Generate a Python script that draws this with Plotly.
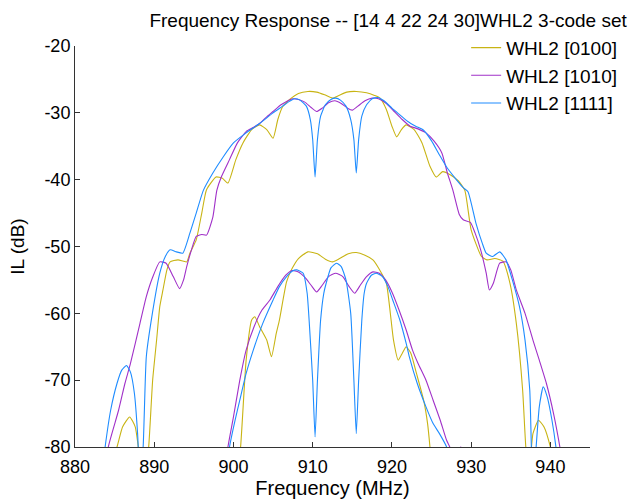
import plotly.graph_objects as go

# ---------------- data ----------------
series_names = ["WHL2 [0100]", "WHL2 [1010]", "WHL2 [1111]"]
series_colors = ["#c8b414", "#a030c8", "#1e8cff"]

# WHL2 [0100] - main response
f_0100_main = [884.0, 885.3, 886.0, 886.9, 887.6, 888.2, 888.7, 889.3, 889.8, 890.3, 890.7, 891.1,
               891.6, 892.0, 893.0, 894.1, 894.5, 895.3, 896.0, 896.6, 897.8, 898.6, 899.3, 900.3,
               901.2, 902.3, 903.3, 904.2, 905.0, 905.6, 906.2, 907.1, 908.2, 909.4, 910.5, 911.5,
               912.5, 913.3, 914.3, 915.5, 916.8, 917.8, 918.5, 919.3, 920.0, 920.6, 921.2, 921.8,
               922.8, 923.8, 924.8, 925.6, 926.4, 927.4, 928.4, 929.2, 930.0, 931.3, 932.0, 933.0,
               934.0, 934.9, 935.7, 936.5, 936.9, 937.3, 937.8, 938.5, 939.2, 940.0, 940.8]
il_0100_main = [-84.0, -80.0, -77.0, -75.5, -77.0, -82.0, -86.0, -80.0, -70.0, -64.0, -59.0, -56.5,
                -53.5, -52.3, -52.0, -52.3, -51.0, -49.0, -45.0, -41.5, -39.6, -39.8, -40.5, -37.0,
                -34.5, -32.5, -31.8, -32.5, -33.8, -31.0, -29.1, -28.0, -27.1, -26.8, -26.9, -27.3,
                -27.8, -27.4, -26.9, -26.8, -27.0, -27.4, -27.8, -29.5, -32.0, -33.6, -32.5, -31.8,
                -32.5, -34.5, -38.0, -39.6, -38.8, -39.3, -40.2, -41.6, -47.5, -51.5, -52.0, -51.8,
                -52.2, -55.5, -61.5, -71.5, -80.0, -84.0, -78.0, -76.0, -77.0, -80.0, -85.0]

# WHL2 [0100] - lower response
f_0100_low = [900.3, 900.9, 901.6, 902.3, 902.7, 903.3, 904.2, 904.8, 905.4, 905.8, 906.7, 907.4,
              908.2, 909.4, 910.6, 911.6, 912.5, 913.4, 914.5, 915.5, 916.6, 917.6, 918.6, 919.3,
              919.8, 920.2, 920.8, 921.3, 921.8, 922.4, 923.1, 924.0, 924.5, 924.8, 925.2]
il_0100_low = [-86.0, -80.0, -67.0, -61.0, -60.5, -62.0, -64.0, -66.5, -63.0, -61.0, -55.3, -53.3,
               -51.8, -50.8, -51.1, -51.9, -52.3, -51.8, -51.1, -50.9, -51.3, -52.0, -53.8, -55.5,
               -60.0, -64.0, -67.0, -66.0, -65.0, -66.0, -69.0, -73.0, -76.5, -80.0, -86.0]

# WHL2 [1010] - main response
f_1010_main = [883.5, 884.2, 885.5, 886.3, 887.0, 888.2, 889.0, 889.8, 890.7, 891.5, 892.4, 893.2,
               893.7, 894.1, 894.7, 895.3, 896.0, 896.6, 897.4, 897.9, 898.5, 899.5, 900.5, 901.6,
               902.5, 903.3, 904.2, 905.0, 906.0, 906.7, 907.5, 908.2, 909.0, 909.8, 910.5, 911.2,
               912.0, 912.8, 913.6, 914.4, 915.0, 915.7, 916.6, 917.5, 918.3, 919.3, 920.3, 921.3,
               922.3, 923.3, 924.3, 925.3, 926.3, 927.0, 927.7, 928.5, 929.0, 929.9, 930.5, 931.2,
               931.9, 932.3, 932.8, 933.6, 934.4, 935.0, 935.7, 936.8, 937.8, 938.6, 939.5, 940.4,
               941.2, 942.0]
il_1010_main = [-86.0, -80.0, -74.5, -70.5, -67.5, -61.5, -57.5, -54.6, -52.3, -52.5, -54.5, -56.3,
                -55.0, -53.0, -50.5, -48.5, -48.2, -48.3, -45.6, -41.6, -39.5, -37.0, -34.5, -32.8,
                -32.2, -31.6, -30.6, -29.8, -28.8, -28.3, -27.9, -28.0, -28.4, -29.2, -29.8, -29.3,
                -28.5, -28.2, -28.6, -29.3, -29.6, -29.0, -28.2, -27.8, -27.9, -28.6, -29.8, -31.0,
                -32.0, -32.4, -33.0, -34.2, -36.0, -39.0, -41.6, -45.2, -46.0, -46.4, -48.0, -50.5,
                -54.0, -56.5, -55.5, -52.5, -52.3, -53.5, -56.5, -60.0, -64.0, -67.0, -70.5, -75.0,
                -80.0, -86.0]

# WHL2 [1010] - lower response
f_1010_low = [898.7, 899.3, 900.0, 900.8, 901.6, 902.6, 903.6, 904.6, 905.6, 906.6, 907.4, 908.2,
              909.0, 909.8, 910.5, 911.2, 912.0, 912.9, 913.8, 914.6, 915.3, 916.0, 916.8, 917.6,
              918.4, 919.2, 920.0, 920.9, 921.8, 922.6, 923.3, 924.3, 925.2, 926.1, 926.9, 927.3,
              927.7, 928.3, 928.7, 929.2]
il_1010_low = [-86.0, -80.0, -75.5, -70.0, -65.5, -62.0, -59.5, -58.0, -56.0, -54.3, -53.6, -53.8,
               -54.6, -55.8, -56.8, -55.8, -54.5, -54.0, -54.5, -56.0, -57.0, -55.8, -54.5, -53.8,
               -54.0, -55.0, -56.8, -59.5, -62.5, -65.5, -67.5, -70.0, -73.0, -76.0, -79.0, -80.0,
               -82.0, -80.5, -80.0, -81.5]

# WHL2 [1111] - main response
f_1111_main = [883.2, 883.8, 884.5, 885.3, 885.9, 886.5, 887.0, 887.5, 887.9, 888.2, 888.6, 889.0,
               889.7, 890.7, 891.4, 892.0, 892.8, 893.6, 894.5, 895.3, 896.2, 897.4, 898.7, 900.0,
               901.6, 903.3, 905.0, 906.2, 906.9, 907.7, 908.4, 909.2, 909.7, 910.0, 910.3, 910.6,
               911.0, 911.6, 912.3, 912.9, 913.5, 914.2, 914.8, 915.2, 915.5, 915.8, 916.2, 916.8,
               917.5, 918.2, 919.0, 920.0, 921.0, 922.0, 923.0, 924.0, 925.0, 926.0, 926.9, 928.0,
               929.0, 929.6, 930.6, 931.4, 931.9, 932.7, 933.6, 934.4, 935.2, 936.1, 936.8, 937.4,
               937.6, 937.8, 938.2, 938.6, 939.1, 939.6, 940.2, 940.7, 941.2]
il_1111_main = [-86.0, -80.0, -74.5, -70.5, -68.5, -67.8, -68.8, -72.0, -78.0, -85.0, -80.0, -66.5,
                -60.5, -54.0, -51.5, -50.5, -50.8, -51.0, -48.0, -45.0, -41.6, -39.0, -36.6, -34.5,
                -33.0, -31.6, -30.0, -29.0, -28.4, -27.9, -28.1, -29.0, -31.0, -34.0, -39.6, -34.0,
                -30.5, -28.8, -28.0, -27.8, -28.1, -29.0, -31.0, -34.0, -39.0, -34.0, -30.5, -28.8,
                -27.9, -27.7, -28.2, -29.3, -30.3, -31.3, -32.0, -32.6, -34.2, -36.3, -38.1, -39.8,
                -41.2, -41.8, -46.5, -49.5, -51.0, -51.5, -50.8, -52.0, -55.0, -59.0, -64.0, -71.5,
                -80.0, -86.0, -80.0, -74.0, -71.0, -72.5, -76.0, -80.0, -86.0]

# WHL2 [1111] - lower response
f_1111_low = [898.9, 899.5, 900.2, 900.8, 901.6, 902.5, 903.7, 905.0, 905.8, 906.7, 907.4, 908.0,
              908.8, 909.3, 909.6, 910.0, 910.3, 910.6, 911.0, 911.4, 911.7, 912.3, 913.0, 913.6,
              914.2, 914.8, 915.2, 915.5, 915.8, 916.2, 916.5, 916.8, 917.4, 918.0, 918.8, 919.5,
              920.1, 921.0, 921.8, 922.2, 923.2, 924.3, 925.2, 926.0, 926.9, 927.3, 928.0, 928.5,
              929.0]
il_1111_low = [-86.0, -80.0, -76.0, -73.0, -69.0, -65.5, -61.5, -58.0, -56.0, -54.5, -53.7, -53.5,
               -54.0, -57.0, -62.0, -70.0, -78.5, -70.0, -61.0, -57.0, -55.5, -53.2, -52.5, -53.0,
               -55.0, -60.0, -70.0, -78.0, -70.0, -61.0, -57.0, -55.5, -54.3, -54.0, -54.5, -56.0,
               -58.0, -61.0, -64.5, -66.5, -70.5, -74.0, -76.5, -78.0, -80.0, -83.0, -81.0, -80.2,
               -82.0]

x_ticks = [880, 890, 900, 910, 920, 930, 940]
y_ticks = [-80, -70, -60, -50, -40, -30, -20]

# ---------------- figure ----------------
FONT = "Liberation Sans, Arial, Helvetica, sans-serif"
fig = go.Figure()

data_sets = [
    (f_0100_main, il_0100_main, f_0100_low, il_0100_low),
    (f_1010_main, il_1010_main, f_1010_low, il_1010_low),
    (f_1111_main, il_1111_main, f_1111_low, il_1111_low),
]
for name, color, (fm, ym, fl, yl) in zip(series_names, series_colors, data_sets):
    fig.add_trace(go.Scatter(x=fm, y=ym, mode="lines", name=name, legendgroup=name,
                             line=dict(color=color, width=1.1, shape="spline", smoothing=0.5)))
    fig.add_trace(go.Scatter(x=fl, y=yl, mode="lines", name=name, legendgroup=name, showlegend=False,
                             line=dict(color=color, width=1.1, shape="spline", smoothing=0.5)))

fig.update_layout(
    width=634, height=504,
    margin=dict(l=75, r=44, t=46, b=57, autoexpand=False),
    paper_bgcolor="white", plot_bgcolor="white",
    font=dict(family=FONT, size=18, color="#000000"),
    title=dict(text="Frequency Response -- [14 4 22 24 30]WHL2 3-code set",
               x=0.608, xref="paper", xanchor="center",
               y=0.96, yref="container", yanchor="middle",
               font=dict(family=FONT, size=19, color="#000000")),
    showlegend=True,
    legend=dict(x=0.7595, xanchor="left", y=1.043, yanchor="top",
                bgcolor="rgba(0,0,0,0)", borderwidth=0,
                traceorder="grouped", tracegroupgap=0,
                font=dict(family=FONT, size=19, color="#000000")),
    xaxis=dict(range=[880, 945], tickvals=x_ticks, ticktext=[str(v) for v in x_ticks],
               automargin=False, ticklabelstandoff=3,
               showgrid=False, zeroline=False, showline=True, linecolor="#333333", linewidth=1,
               ticks="inside", ticklen=5, tickcolor="#333333",
               tickfont=dict(family=FONT, size=18),
               title=dict(text="Frequency (MHz)", standoff=1, font=dict(family=FONT, size=20))),
    yaxis=dict(range=[-80, -20], tickvals=y_ticks, ticktext=[str(v) for v in y_ticks],
               automargin=False,
               showgrid=False, zeroline=False, showline=True, linecolor="#333333", linewidth=1,
               ticks="inside", ticklen=5, tickcolor="#333333",
               tickfont=dict(family=FONT, size=18),
               title=dict(text="IL (dB)", standoff=14, font=dict(family=FONT, size=19))),
)

# remove the browser's default 8px page margin so the figure sits at the window origin
fig.write_html("out.html", config={"displayModeBar": False},
               post_script="document.body.style.margin='0px';")
